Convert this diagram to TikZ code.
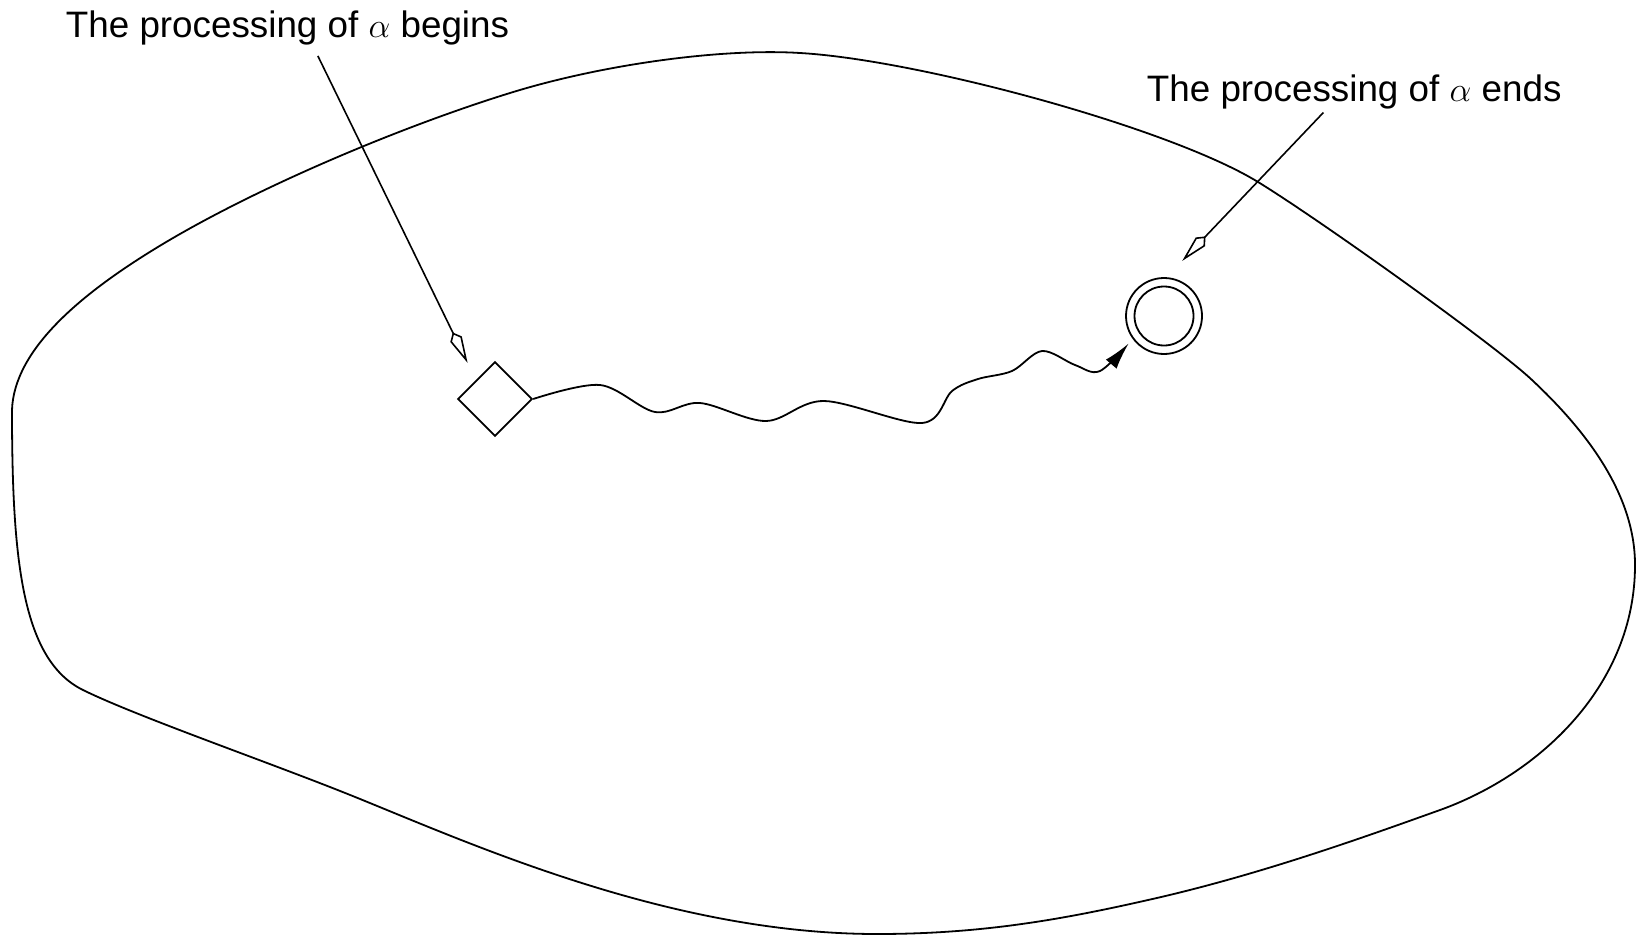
\documentclass[tikz,border=0pt]{standalone}
\usepackage{fontspec}
\setmainfont{Liberation Sans}
\usepackage{tikz}
\usetikzlibrary{arrows.meta,shapes.geometric}

\begin{document}
\begin{tikzpicture}[x=0.5pt, y=-0.5pt, line width=0.9pt,
    labeltext/.style={anchor=base west, inner sep=0pt, font=\fontsize{18.4}{22}\selectfont},
    startmark/.style={diamond, draw, minimum size=37.3pt, inner sep=0pt},
    endmark/.style={circle, draw, minimum size=38pt, inner sep=0pt},
    leader/.style={-{Kite[open, length=16.9pt, width=6.4pt, inset=3.75pt]}, line width=0.8pt},
    walk/.style={-{Latex[length=13.5pt, width=7pt]}}]
  \useasboundingbox (0,0) rectangle (1636,936);
  % Region
  \draw (12,410)
    .. controls (12,560) and (22,660) .. (83,690)
    .. controls (140,718) and (280,766) .. (365,801)
    .. controls (485,850) and (677,934) .. (877,934)
    .. controls (980,934) and (1060,920) .. (1148,900)
    .. controls (1260,875) and (1370,835) .. (1440,810)
    .. controls (1540,774) and (1635,685) .. (1635,565)
    .. controls (1635,490) and (1580,425) .. (1532,380)
    .. controls (1495,345) and (1320,220) .. (1258,182)
    .. controls (1170,128) and (920,60) .. (800,53)
    .. controls (720,48) and (600,65) .. (510,93)
    .. controls (400,127) and (250,190) .. (153,250)
    .. controls (80,295) and (14,350) .. cycle;

  % Begin and end marks
  \node[startmark] (start) at (495,399) {};
  \node[endmark] (done) at (1164,316) {};
  \node[circle, draw, minimum size=29.5pt, inner sep=0pt] (donein) at (done) {};

  % Labels
  \node[labeltext] (begtxt) at (65,38) {The processing of $\alpha$ begins};
  \node[labeltext] (endtxt) at (1146,101.5) {The processing of $\alpha$ ends};

  % Leaders
  \draw[leader, shorten <=5.2pt, shorten >=9.5pt] ([xshift=12.9pt]begtxt.south) -- (start.north west);
  \draw[leader, shorten <=1.7pt, shorten >=11.25pt] ([xshift=-14.2pt]endtxt.south) -- (done.86);

  % Path of the processing
  \draw[walk, shorten >=3pt] plot[smooth, tension=0.55] coordinates {
    (start.east) (600,385) (655,412) (700,403) (766,421) (824,401)
    (922,423) (952,391) (978,379) (1012,371) (1042,351) (1075,365)
    (1100,371) (done.216)};
\end{tikzpicture}
\end{document}
